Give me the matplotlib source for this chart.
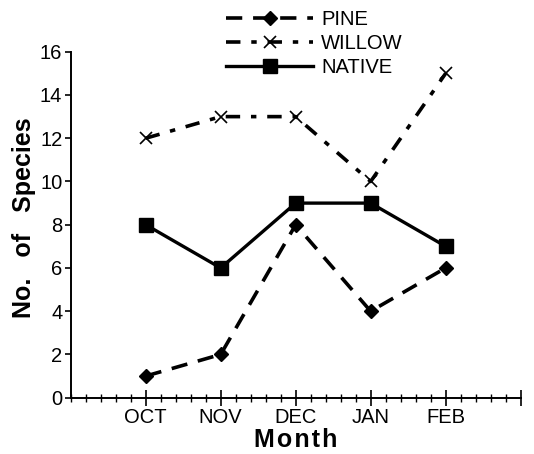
import matplotlib
matplotlib.use("Agg")
import matplotlib.pyplot as plt
from matplotlib.ticker import MultipleLocator, FixedLocator

plt.rcParams["font.family"] = ["Liberation Sans", "DejaVu Sans"]

months = ["OCT", "NOV", "DEC", "JAN", "FEB"]
pine = [1, 2, 8, 4, 6]
willow = [12, 13, 13, 10, 15]
native = [8, 6, 9, 9, 7]

x = list(range(1, len(months) + 1))

fig = plt.figure(figsize=(5.34, 4.54), dpi=100)
ax = fig.add_axes([0.1324, 0.124, 0.8426, 0.762])

ax.plot(x, pine, color="black", lw=2.6, ls=(0, (4.5, 3)),
        marker="D", ms=7, label="PINE")
ax.plot(x, willow, color="black", lw=2.6, ls=(0, (4, 3, 1.5, 3)),
        marker="x", ms=9, mew=1.2, label="WILLOW")
ax.plot(x, native, color="black", lw=2.4, ls="-",
        marker="s", ms=10, label="NATIVE")

ax.set_xlim(0, 6)
ax.set_ylim(0, 16)
ax.spines["top"].set_visible(False)
ax.spines["right"].set_visible(False)
ax.spines["left"].set_linewidth(1.4)
ax.spines["bottom"].set_linewidth(1.4)

ax.xaxis.set_major_locator(FixedLocator([1, 2, 3, 4, 5, 6]))
ax.set_xticklabels(months + [""])
ax.xaxis.set_minor_locator(MultipleLocator(0.2))
ax.tick_params(axis="x", which="major", direction="inout", length=11,
               width=1.2, labelsize=14.5, pad=2)
ax.tick_params(axis="x", which="minor", direction="inout", length=6,
               width=1.0)
ax.yaxis.set_major_locator(MultipleLocator(2))
ax.tick_params(axis="y", direction="out", length=4, width=1.2,
               labelsize=14.5, pad=2)

# slight letter spacing on the x label, like the scan
ax.set_xlabel("M\u200ao\u200an\u200at\u200ah", fontsize=18, fontweight="bold")
ax.xaxis.set_label_coords(0.5, -0.088)
ax.set_ylabel("No.   of   Species", fontsize=18, fontweight="bold")
ax.yaxis.set_label_coords(-0.078, 0.52)

fig.legend(loc="upper left", bbox_to_anchor=(0.424, 0.978), frameon=False,
           fontsize=14.5, handlelength=4.3, handletextpad=0.4,
           labelspacing=0.25, borderpad=0, borderaxespad=0)

fig.savefig("out.png", dpi=100)
